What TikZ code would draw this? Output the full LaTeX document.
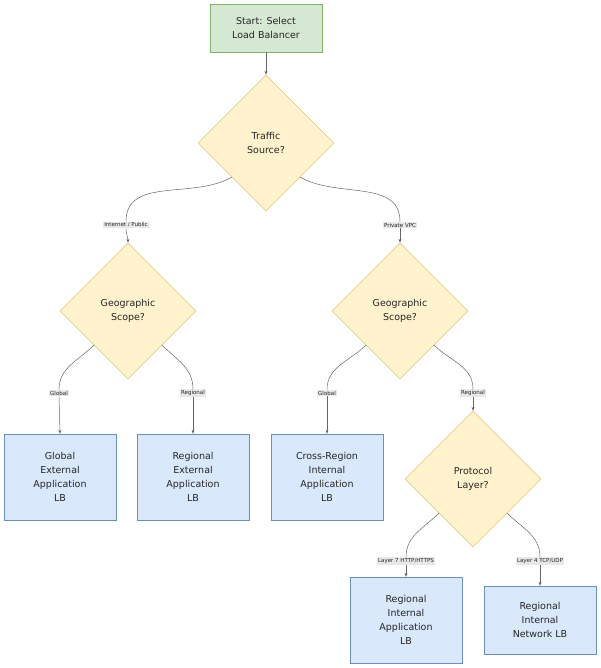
\documentclass[tikz,border=0pt]{standalone}
\usepackage{fontspec}
\setmainfont{DejaVu Sans}
\usetikzlibrary{shapes.geometric,arrows.meta}
\definecolor{gfill}{HTML}{D5E8D4}\definecolor{gline}{HTML}{82B366}
\definecolor{yfill}{HTML}{FFF2CC}\definecolor{yline}{HTML}{D6B656}
\definecolor{bfill}{HTML}{DAE8FC}\definecolor{bline}{HTML}{6C8EBF}
\definecolor{lbg}{HTML}{E8E8E8}
\begin{document}
\begin{tikzpicture}[x=1pt,y=-1pt,
  every node/.style={font=\fontsize{9.5}{14}\selectfont, align=center, text=black!85},
  startbox/.style={draw=gline,fill=gfill,minimum width=112pt,minimum height=48pt,inner sep=0},
  dec/.style={diamond,draw=yline,fill=yfill,minimum width=136pt,minimum height=136pt,inner sep=0},
  lb/.style={draw=bline,fill=bfill,minimum width=112pt,inner sep=0},
  lbl/.style={fill=lbg,font=\fontsize{5.5}{6}\selectfont,inner sep=1pt},
  ln/.style={draw=black!60,line width=0.5pt},
  arr/.style={ln,-{Stealth[length=4pt,width=3pt]}}]
\useasboundingbox (0,0) rectangle (600,668);
\node[startbox] (s) at (266,28) {Start: Select\\Load Balancer};
\node[dec] (ts) at (266,143) {Traffic\\Source?};
\node[dec] (g1) at (128,311) {Geographic\\Scope?};
\node[dec] (g2) at (400,311) {Geographic\\Scope?};
\node[dec] (pl) at (473,479) {Protocol\\Layer?};
\node[lb,minimum height=86pt] (b1) at (60,477) {Global\\External\\Application\\LB};
\node[lb,minimum height=86pt] (b2) at (193,477) {Regional\\External\\Application\\LB};
\node[lb,minimum height=86pt] (b3) at (327,477) {Cross-Region\\Internal\\Application\\LB};
\node[lb,minimum height=86pt] (b4) at (406,620) {Regional\\Internal\\Application\\LB};
\node[lb,minimum height=68pt] (b5) at (540,620) {Regional\\Internal\\Network LB};
\node[lbl] (l1) at (126,225) {Internet / Public};
\node[lbl] (l2) at (400,225) {Private VPC};
\node[lbl] (l3) at (59,393) {Global};
\node[lbl] (l4) at (193,393) {Regional};
\node[lbl] (l5) at (327,393) {Global};
\node[lbl] (l6) at (473,393) {Regional};
\node[lbl] (l7) at (406,561) {Layer 7 HTTP/HTTPS};
\node[lbl] (l8) at (540,561) {Layer 4 TCP/UDP};
\draw[arr] (s) -- (ts);
\draw[ln] (ts.south west) to[out=210,in=90] (l1.north);
\draw[arr] (l1.south) to[out=-90,in=90] (g1.north);
\draw[ln] (ts.south east) to[out=-30,in=90] (l2.north);
\draw[arr] (l2.south) -- (g2.north);
\draw[ln] (g1.south west) to[out=225,in=90] (l3.north);
\draw[arr] (l3.south) -- (b1.north);
\draw[ln] (g1.south east) to[out=-45,in=90] (l4.north);
\draw[arr] (l4.south) -- (b2.north);
\draw[ln] (g2.south west) to[out=225,in=90] (l5.north);
\draw[arr] (l5.south) -- (b3.north);
\draw[ln] (g2.south east) to[out=-45,in=90] (l6.north);
\draw[arr] (l6.south) -- (pl.north);
\draw[ln] (pl.south west) to[out=225,in=90] (l7.north);
\draw[arr] (l7.south) -- (b4.north);
\draw[ln] (pl.south east) to[out=-45,in=90] (l8.north);
\draw[arr] (l8.south) -- (b5.north);
\end{tikzpicture}
\end{document}
